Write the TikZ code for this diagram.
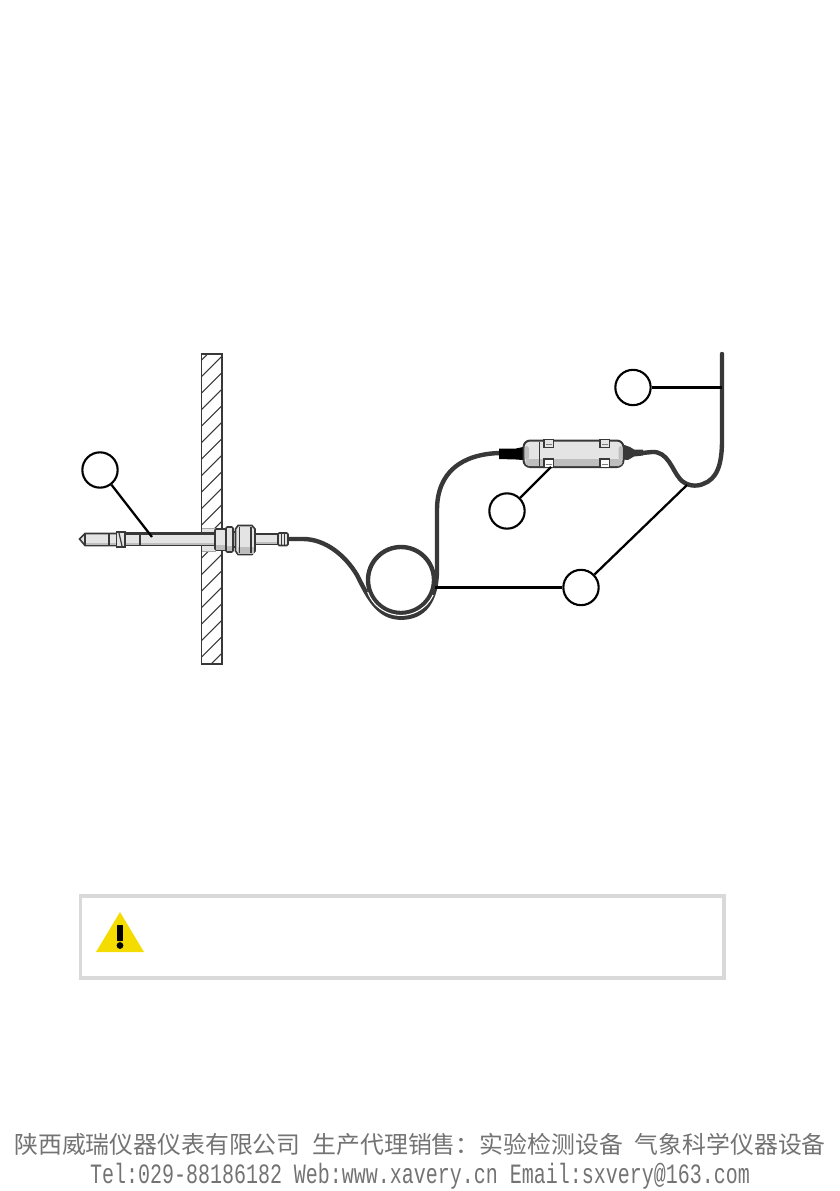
\documentclass[tikz,border=0pt]{standalone}
\usepackage{graphicx}
\usepackage{fontspec}
\newfontfamily\cjk{Noto Sans CJK SC}
\newfontfamily\monof{Liberation Mono}
\definecolor{cab}{HTML}{383838}
\definecolor{bodyg}{HTML}{E4E4E4}
\definecolor{bodyd}{HTML}{BEBEBE}
\definecolor{warn}{HTML}{F5DC00}
\tikzset{
 callout/.style={circle,draw=black,line width=1.6pt,minimum size=26.5pt,inner sep=0pt,fill=white},
 leader/.style={draw=black,line width=1.7pt},
 cable/.style={draw=cab,line width=3.3pt,line cap=round,line join=round},
 part/.style={draw=cab,line width=1.2pt,fill=bodyg},
 thin part/.style={draw=cab,line width=0.9pt},
}
\begin{document}
\begin{tikzpicture}[x=0.75pt,y=-0.75pt]
\useasboundingbox (0,0) rectangle (839,1191);
% wall
\begin{scope}
\clip (201.5,354) rectangle (222,664);
\foreach \yy in {360,376.5,...,690}{
  \draw[draw=cab,line width=0.8pt] (201.5,\yy) -- (222,\yy-20.5);
}
\end{scope}
\draw[draw=cab,line width=0.9pt] (201.5,354) rectangle (222,664);
\draw[draw=cab,line width=1.4pt] (201.5,354) -- (222,354);
% wall hole
\fill[white] (202,528) rectangle (222.5,551);
\fill[black!10] (202,528) rectangle (216,533);
\fill[black!10] (202,546) rectangle (216,551);
\draw[draw=gray!70,line width=0.7pt] (201.5,528) -- (216,528) (201.5,551) -- (216,551);
% cable left + loop
\draw[cable] (288,539) -- (303,539) .. controls (325,539) and (345,555) .. (357,575)
  .. controls (368,597) and (378,617.7) .. (401,617.7)
  .. controls (425,617.7) and (436,600) .. (437,572)
  -- (437,510) .. controls (437,472) and (462,454) .. (500,453);
\draw[cab,line width=3.3pt] (401,580) circle[radius=33];
\draw[white,line width=0.8pt] (401,580) ++(160:35.4) arc[start angle=160,end angle=25,radius=35.4];
% probe
\draw[part] (79.5,539) -- (85,533.5) -- (118,533.5) -- (118,545.5) -- (85,545.5) -- cycle;
\draw[part] (118,533.5) rectangle (216,545.5);
\fill[bodyd] (86,543) rectangle (215,545);
\draw[draw=cab,line width=1.8pt] (125,533.5) -- (216,533.5);
\draw[thin part] (85,534) -- (85,545) (109,534) -- (109,545) (140,534) -- (140,545);
\draw[part] (116.5,532) rectangle (125,547);
\draw[thin part] (119,533) -- (122,546);
\draw[part,rounded corners=1pt] (215,529) rectangle (226,550);
\fill[bodyd] (216,545) rectangle (225.5,549.5);
\draw[part] (233,532) rectangle (236,547);
\draw[part,rounded corners=1pt] (226,527) rectangle (233,552);
\fill[bodyd] (226.7,546) rectangle (232.4,551.4);
\draw[part] (238,525.5) -- (252,525.5) -- (255,529) -- (255,551) -- (252,554.5) -- (238,554.5) -- (235.5,551) -- (235.5,529) -- cycle;
\fill[bodyd] (238,547) rectangle (253.5,553.5);
\draw[thin part] (239.5,527) -- (239.5,553) (251,527) -- (251,553);
\draw[part] (255,534) rectangle (278,544.5);
\fill[bodyd] (255.7,541.5) rectangle (277.4,543.8);
\draw[part,rounded corners=1pt] (278,533) rectangle (288,545.5);
\draw[thin part] (281.5,533.5) -- (281.5,545) (284.5,533.5) -- (284.5,545);
% sensor head
\fill[black] (499,448.5) -- (516,448.5) -- (523,447) -- (523,460) -- (516,459.5) -- (499,459) -- cycle;
\fill[cab] (623,444.5) -- (630,447) -- (634,449.5) -- (643,449.5) -- (643,455.5) -- (634,456.5) -- (628,460) -- (623,459.5) -- cycle;
\draw[part,rounded corners=5pt,line width=1.5pt] (523.5,440.5) rectangle (623.5,467);
\fill[bodyd,rounded corners=3pt] (525,459) rectangle (622.5,466);
\fill[bodyd,rounded corners=2pt] (524.5,446) rectangle (529,460);
\fill[bodyd,rounded corners=2pt] (618.5,446) rectangle (622.7,460);
\draw[thin part] (539.5,441.5) -- (539.5,466);
\foreach \xx in {544,600}{
 \draw[part,fill=bodyg] (\xx,439.5) rectangle (\xx+9.5,447.5);
 \draw[part,fill=white] (\xx,459) rectangle (\xx+9.5,467.5);
 \draw[draw=gray,line width=0.9pt] (\xx+2,444.5) -- (\xx+7.5,444.5) (\xx+2,464.5) -- (\xx+7.5,464.5);
}
% cable right
\draw[cable] (642,453) -- (652,452) .. controls (668,451) and (672,470) .. (680,479)
 .. controls (686,486) and (696,487) .. (703,484)
 .. controls (717,479) and (722,465) .. (722,440) -- (722,354);
% callouts
\node[callout] (a) at (100,470) {};
\node[callout] (b) at (633,387.5) {};
\node[callout] (c) at (507,511) {};
\node[callout] (d) at (581,587.5) {};
\coordinate (pa) at (152,537);
\coordinate (pb) at (722,387.5);
\coordinate (pc) at (551,467);
\coordinate (pd) at (435,587.5);
\coordinate (pe) at (687,485);
\draw[leader] (a) -- (pa);
\draw[leader] (b) -- (pb);
\draw[leader] (c) -- (pc);
\draw[leader] (d) -- (pd);
\draw[leader] (d) -- (pe);
% warning box
\draw[draw=black!15,line width=2.4pt] (80.5,896) rectangle (724,978);
\fill[warn] (120,912) -- (144,952) -- (96,952) -- cycle;
\fill[black,rounded corners=0.4pt] (117.2,925) rectangle (122.8,941);
\fill[black] (120,945.5) circle[radius=3.4];
% footer
\node[inner sep=0pt,text=black!55,font={\cjk\fontsize{17.9pt}{20pt}\selectfont},anchor=center] (f1) at (420,1144)
 {陕西威瑞仪器仪表有限公司\hspace{0.5em}生产代理销售\char"FF1A 实验检测设备\hspace{0.5em}气象科学仪器设备};
\node[inner sep=0pt,text=black!55,font={\monof\fontsize{21pt}{24pt}\selectfont},anchor=center] (f2) at (420,1176)
 {\scalebox{0.714}[1]{Tel:029-88186182 Web:www.xavery.cn Email:sxvery@163.com}};
\end{tikzpicture}
\end{document}
